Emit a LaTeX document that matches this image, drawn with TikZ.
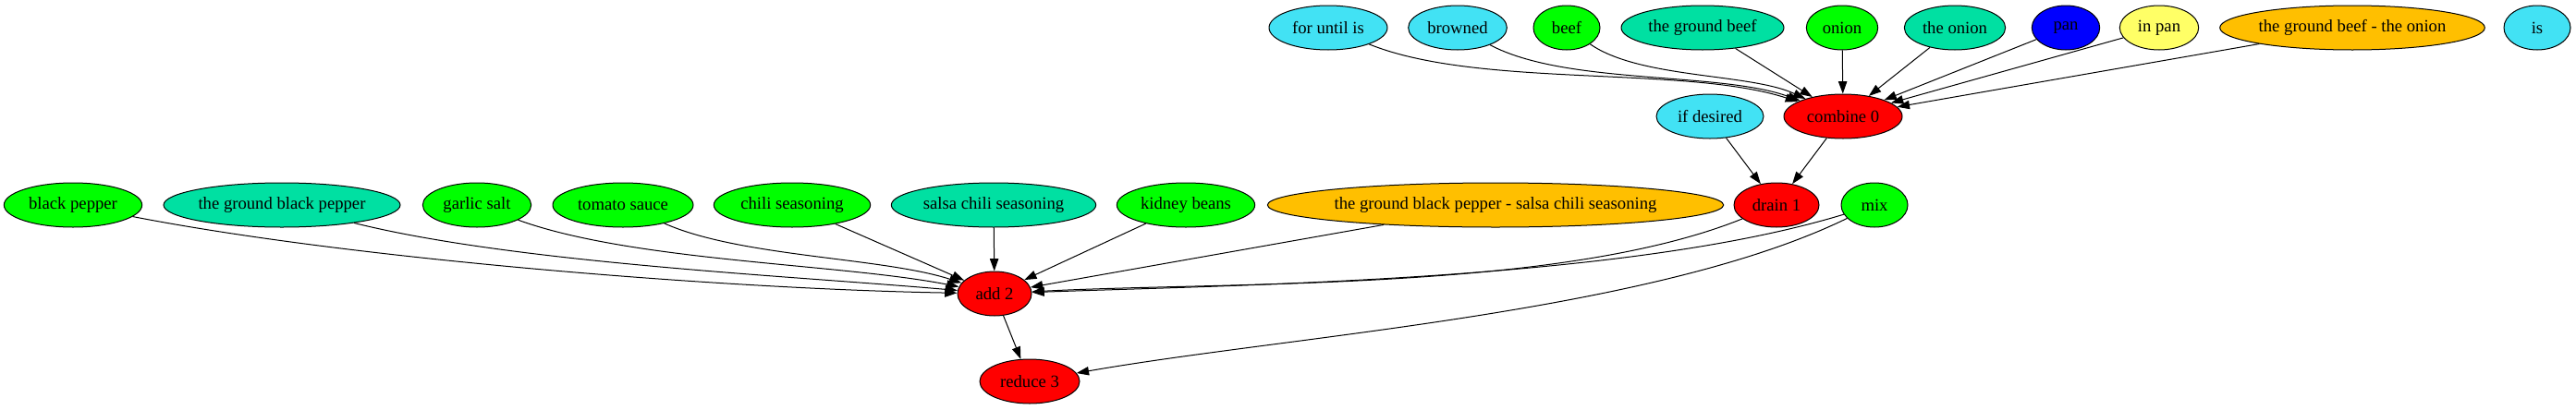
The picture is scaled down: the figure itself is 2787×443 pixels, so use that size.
\documentclass[tikz,border=0pt]{standalone}
\usepackage{fontspec}
\setmainfont{Liberation Serif}
\usetikzlibrary{shapes.geometric, arrows.meta}

\definecolor{cyanish}{HTML}{42E2F4}
\definecolor{tealish}{HTML}{00E0A2}
\definecolor{yellowish}{HTML}{FFFF66}
\definecolor{orangish}{HTML}{FFBF00}

\begin{document}
\begin{tikzpicture}[x = 0.75pt, y = -0.75pt,
    every node/.style = {ellipse, draw, line width = .75pt, inner sep = 0pt, minimum height = 36pt,
      font = \fontsize{14}{16}\selectfont},
    act/.style = {fill = red},
    ingr/.style = {fill = green},
    full/.style = {fill = tealish},
    other/.style = {fill = cyanish},
    tool/.style = {fill = blue},
    place/.style = {fill = yellowish},
    combo/.style = {fill = orangish},
    edge/.style = {-{Triangle[length = 10pt, width = 7pt]}, line width = .75pt, looseness = 0.7}]

    \useasboundingbox (0,0) rectangle (2787,443);

    % top row
    \node [other, minimum width = 96pt] (untilis) at (1437,30) {for until is};
    \node [other, minimum width = 80pt] (browned) at (1577,30) {browned};
    \node [ingr, minimum width = 54pt] (beef) at (1695,30) {beef};
    \node [full, minimum width = 132pt] (gbeef) at (1842,30) {the ground beef};
    \node [ingr, minimum width = 58pt] (onion) at (1993,30) {onion};
    \node [full, minimum width = 82pt] (tonion) at (2115,30) {the onion};
    \node [tool, minimum width = 55pt] (pan) at (2235,30) {pan};
    \node [place, minimum width = 64pt] (inpan) at (2336,30) {in pan};
    \node [combo, minimum width = 214pt] (beefonion) at (2545,30) {the ground beef - the onion};
    \node [other, minimum width = 54pt] (is) at (2745,30) {is};

    % second row
    \node [other, minimum width = 87pt] (desired) at (1850,126) {if desired};
    \node [act, minimum width = 96pt] (combine) at (1994,126) {combine 0};

    % third row
    \node [ingr, minimum width = 112pt] (bpepper) at (79,222) {black pepper};
    \node [full, minimum width = 192pt] (gbpepper) at (305,222) {the ground black pepper};
    \node [ingr, minimum width = 88pt] (garlic) at (516,222) {garlic salt};
    \node [ingr, minimum width = 114pt] (tomato) at (674,222) {tomato sauce};
    \node [ingr, minimum width = 127pt] (chili) at (857,222) {chili seasoning};
    \node [full, minimum width = 166pt] (salsa) at (1075,222) {salsa chili seasoning};
    \node [ingr, minimum width = 112pt] (beans) at (1283,222) {kidney beans};
    \node [combo, minimum width = 351pt] (peppersalsa) at (1618,222) {the ground black pepper - salsa chili seasoning};
    \node [act, minimum width = 69pt] (drain) at (1922,222) {drain 1};
    \node [ingr, minimum width = 54pt] (mix) at (2028,222) {mix};

    % bottom
    \node [act, minimum width = 60pt] (add) at (1076,318) {add 2};
    \node [act, minimum width = 81pt] (reduce) at (1114,413) {reduce 3};

    % into combine 0
    \draw [edge] (untilis) to [out = -22, in = 162] (combine);
    \draw [edge] (browned) to [out = -28, in = 160] (combine);
    \draw [edge] (beef) to [out = -35, in = 155] (combine);
    \draw [edge] (gbeef) -- (combine);
    \draw [edge] (onion) -- (combine);
    \draw [edge] (tonion) -- (combine);
    \draw [edge] (pan) -- (combine);
    \draw [edge] (inpan) -- (combine);
    \draw [edge] (beefonion) -- (combine);

    % into drain 1
    \draw [edge] (desired) -- (drain);
    \draw [edge] (combine) -- (drain);

    % into add 2
    \draw [edge] (bpepper) to [out = -11, in = 179] (add);
    \draw [edge] (gbpepper) to [out = -14, in = 175] (add);
    \draw [edge] (garlic) to [out = -20, in = 169] (add);
    \draw [edge] (tomato) to [out = -24, in = 162] (add);
    \draw [edge] (chili) -- (add);
    \draw [edge] (salsa) -- (add);
    \draw [edge] (beans) -- (add);
    \draw [edge] (peppersalsa) -- (add);
    \draw [edge] (drain) to [out = 202, in = 3] (add);
    \draw [edge] (mix) to [out = 197, in = 2] (add);

    % into reduce 3
    \draw [edge] (add) -- (reduce);
    \draw [edge] (mix) to [out = 206, in = 10] (reduce);

\end{tikzpicture}
\end{document}
